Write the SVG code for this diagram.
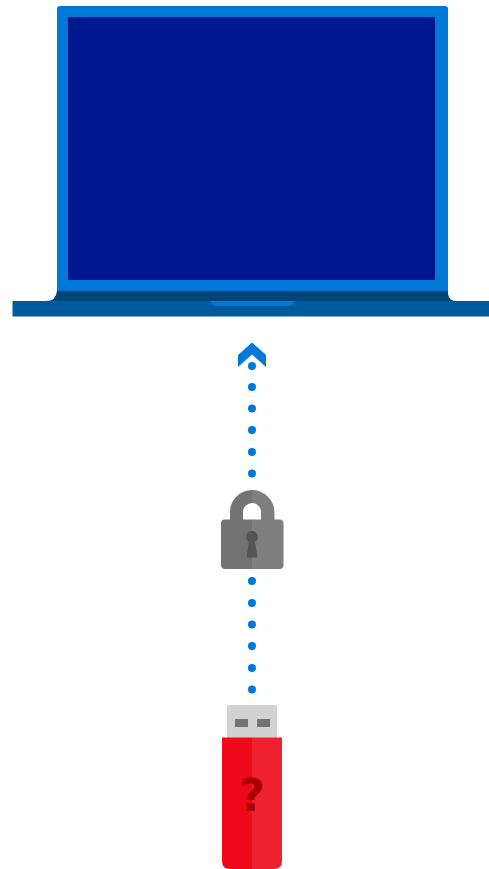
<svg xmlns="http://www.w3.org/2000/svg" width="489" height="869" viewBox="0 0 489 869">
<style>
.dot{fill:#0078d7}
</style>
<rect width="489" height="869" fill="#fff"/>
<g id="laptop">
<path d="M57 291V9Q57 6 60 6H445Q448 6 448 9V291Z" fill="#0078d7"/>
<rect x="68" y="17" width="367" height="263" fill="#00188f"/>
<path d="M57 291H448V294Q449 301 456 301H470V302H38V301H46Q56 301 57 291Z" fill="#004578"/>
<path d="M12.500 301H489V316.500H12.500Z" fill="#005a9e"/>
<path d="M211 301H294Q293 306 288 306H216Q212 306 211 301Z" fill="#0078d7"/>
</g>
<g id="connectors">
<path d="M238 367V355L252 342.500L266 355V367L252 354.500Z" fill="#0078d7"/>
<g class="dot">
<circle cx="252" cy="366" r="4"/><circle cx="252" cy="387" r="4"/><circle cx="252" cy="408.500" r="4"/><circle cx="252" cy="430" r="4"/><circle cx="252" cy="452" r="4"/><circle cx="252" cy="473.500" r="4"/>
<circle cx="252" cy="581" r="4"/><circle cx="252" cy="603" r="4"/><circle cx="252" cy="624.500" r="4"/><circle cx="252" cy="646" r="4"/><circle cx="252" cy="668" r="4"/><circle cx="252" cy="689.500" r="4"/>
</g>
</g>
<g id="lock">
<path d="M230 521V512A22 22 0 0 1 252 490V503A9 9 0 0 0 243 512V521Z" fill="#737373"/>
<path d="M252 490A22.500 22.500 0 0 1 274.500 512V521H261V512A9 9 0 0 0 252 503Z" fill="#7f7f7f"/>
<path d="M252 519.500H225Q221 519.500 221 523.500V565Q221 569 225 569H252Z" fill="#737373"/>
<path d="M252 519.500H279.500Q283.500 519.500 283.500 523.500V565Q283.500 569 279.500 569H252Z" fill="#7f7f7f"/>
<path d="M252 531A5.800 5.800 0 0 0 249 541.800L246.500 557.500H257.500L255 541.800A5.800 5.800 0 0 0 252 531Z" fill="#555"/>
</g>
<g id="usb-drive">
<rect x="227" y="705" width="50" height="33" fill="#d2d2d2"/>
<rect x="235" y="719" width="13" height="8" fill="#737373"/>
<rect x="257" y="719" width="13" height="8" fill="#737373"/>
<path d="M222 737.500H252V869H230Q222 869 222 861Z" fill="#ee0a1a"/>
<path d="M252 737.500H282V861Q282 869 274 869H252Z" fill="#ef2130"/>
<text x="252" y="811" text-anchor="middle" font-family="'DejaVu Sans',sans-serif" font-weight="700" font-size="44" fill="#a80000">?</text>
</g>
</svg>
